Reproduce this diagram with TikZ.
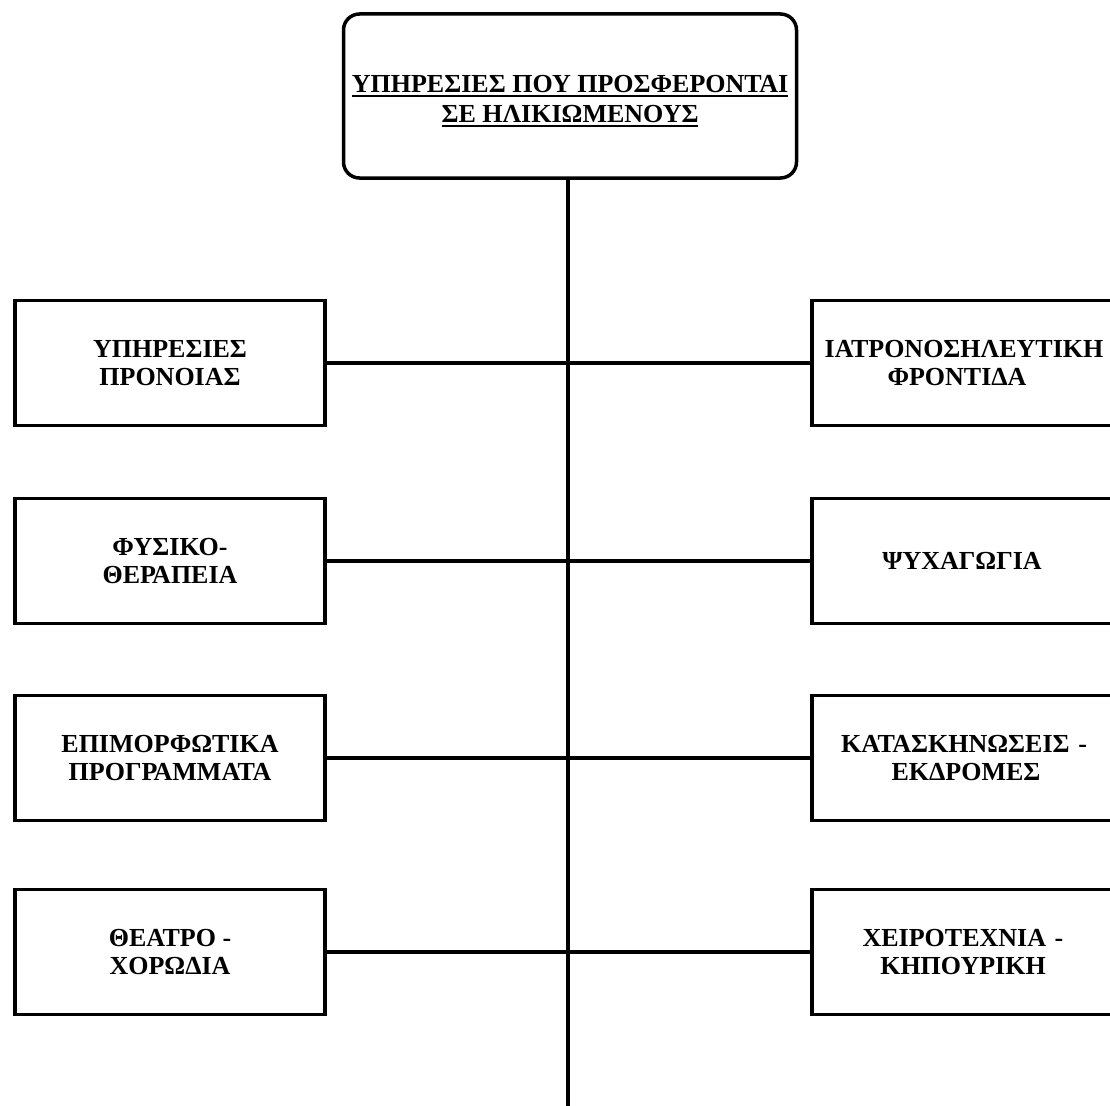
\documentclass[tikz,border=0pt]{standalone}
\usepackage{fontspec}
\setmainfont{Liberation Serif}
\newcommand\myul[1]{\setbox0\hbox{#1}\rlap{\rule[-4.5pt]{\wd0}{2pt}}\box0}
\begin{document}
\begin{tikzpicture}[x=1pt,y=-1pt,
  box/.style={draw,line width=3.5pt,minimum width=310pt,minimum height=125pt,inner sep=0pt,align=center,
    font=\fontsize{26}{28.5}\selectfont\bfseries},
  titlebox/.style={draw,line width=3.5pt,rounded corners=16pt,minimum width=453pt,minimum height=164pt,inner sep=0pt},
  titletext/.style={inner sep=0pt,font=\fontsize{26}{31}\selectfont\bfseries},
  link/.style={line width=3.5pt}]
\clip (0,0) rectangle (1110,1105);
\fill[white] (0,0) rectangle (1110,1105);
\node[titlebox] (top) at (570,96) {};
\node[titletext,yshift=-5.5pt] (toptext) at (top.center) {\shortstack{\myul{ΥΠΗΡΕΣΙΕΣ ΠΟΥ ΠΡΟΣΦΕΡΟΝΤΑΙ}\\[5pt]\myul{ΣΕ ΗΛΙΚΙΩΜΕΝΟΥΣ}}};
\coordinate (bottom) at (568,1110);
\node[box] (L1) at (170,363) {ΥΠΗΡΕΣΙΕΣ\\ΠΡΟΝΟΙΑΣ};
\node[box] (L2) at (170,561) {ΦΥΣΙΚΟ-\\ΘΕΡΑΠΕΙΑ};
\node[box] (L3) at (170,758) {ΕΠΙΜΟΡΦΩΤΙΚΑ\\ΠΡΟΓΡΑΜΜΑΤΑ};
\node[box] (L4) at (170,952) {ΘΕΑΤΡΟ -\\ΧΟΡΩΔΙΑ};
\node[box,text width=300pt] (R1) at (967,363) {\hspace*{-6pt}ΙΑΤΡΟΝΟΣΗΛΕΥΤΙΚΗ\\\hspace*{-20pt}ΦΡΟΝΤΙΔΑ};
\node[box,text width=300pt] (R2) at (967,561) {\hspace*{-10pt}ΨΥΧΑΓΩΓΙΑ};
\node[box,text width=300pt] (R3) at (967,758) {\hspace*{-6pt}ΚΑΤΑΣΚΗΝΩΣΕΙΣ -\\\hspace*{-2pt}ΕΚΔΡΟΜΕΣ};
\node[box,text width=300pt] (R4) at (967,952) {\hspace*{-8pt}ΧΕΙΡΟΤΕΧΝΙΑ -\\\hspace*{-8pt}ΚΗΠΟΥΡΙΚΗ};
\draw[link] (top.south -| bottom) -- (bottom);
\draw[link] (L1.east) -- (R1.west);
\draw[link] (L2.east) -- (R2.west);
\draw[link] (L3.east) -- (R3.west);
\draw[link] (L4.east) -- (R4.west);
\end{tikzpicture}
\end{document}
